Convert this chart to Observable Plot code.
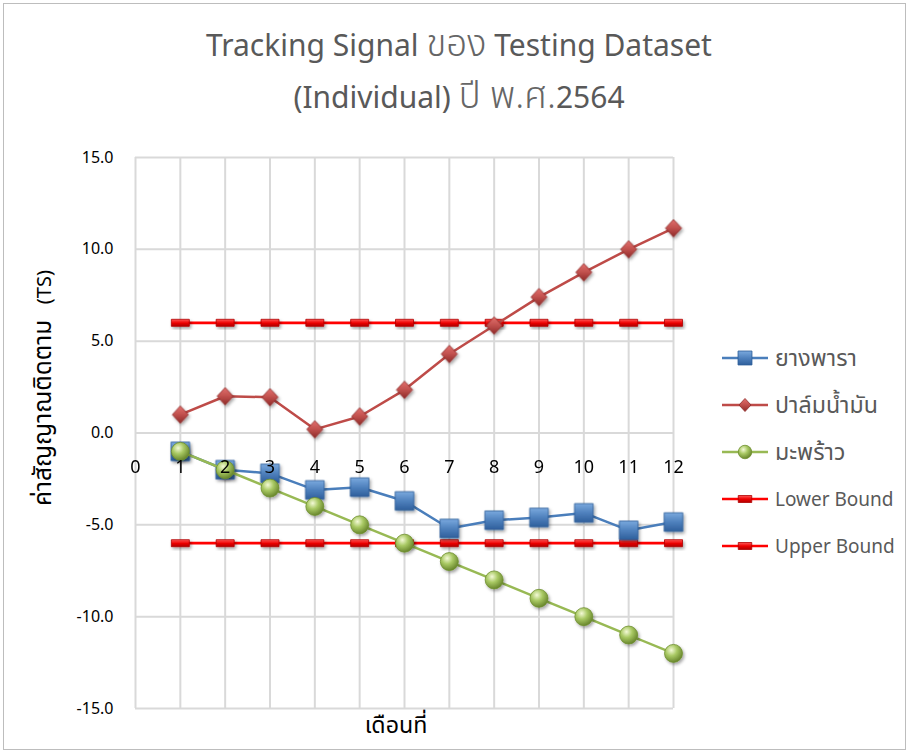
<!DOCTYPE html>
<html><head><meta charset="utf-8">
<script src="https://cdn.jsdelivr.net/npm/d3@7"></script>
<script src="https://cdn.jsdelivr.net/npm/@observablehq/plot@0.6"></script>
<style>
body{margin:0;width:909px;height:753px;position:relative;background:#fff;font-family:"Noto Sans","Noto Sans Thai",Tahoma,sans-serif;overflow:hidden}
#frame{position:absolute;left:3px;top:3px;width:903px;height:747px;border:1px solid #bdbdbd;box-sizing:border-box}
#title{position:absolute;left:0;width:918px;top:19px;text-align:center;color:#595959;font-size:30px;line-height:52px}
#title .th{font-weight:300;color:#666}
#chart{position:absolute;left:0;top:130px}
#ylabel{position:absolute;left:44px;top:388px;transform:translate(-50%,-50%) rotate(-90deg);white-space:nowrap;font-size:20px;color:#000;line-height:30px}
#xlabel{position:absolute;left:396px;top:726px;transform:translate(-50%,-50%);font-size:19px;color:#000;white-space:nowrap;line-height:30px}
#legend{position:absolute;left:720px;top:334px}
.item{display:flex;align-items:center;height:47px;font-size:19px;color:#595959;white-space:nowrap;line-height:24px}
.item svg{margin-right:5px}
.th{font-size:1.22em;line-height:1}
</style></head>
<body>
<svg width="0" height="0" style="position:absolute">
<defs>
<linearGradient id="gBlue" x1="0" y1="0" x2="0" y2="1"><stop offset="0" stop-color="#7aa9de"/><stop offset="0.5" stop-color="#4f81bd"/><stop offset="1" stop-color="#2f5f9c"/></linearGradient>
<linearGradient id="gRed" x1="0" y1="0" x2="0" y2="1"><stop offset="0" stop-color="#e2706d"/><stop offset="0.5" stop-color="#c0504d"/><stop offset="1" stop-color="#8e2a28"/></linearGradient>
<radialGradient id="gGreen" cx="0.38" cy="0.32" r="0.7"><stop offset="0" stop-color="#f3f9d6"/><stop offset="0.45" stop-color="#a9c964"/><stop offset="1" stop-color="#66842a"/></radialGradient>
<linearGradient id="gBound" x1="0" y1="0" x2="0" y2="1"><stop offset="0" stop-color="#ff5a5a"/><stop offset="0.5" stop-color="#ee0000"/><stop offset="1" stop-color="#b00000"/></linearGradient>
<filter id="shadow" x="-50%" y="-50%" width="200%" height="200%"><feDropShadow dx="1.5" dy="2" stdDeviation="1.5" flood-color="#000" flood-opacity="0.35"/></filter>
</defs>
</svg>
<div id="frame"></div>
<div id="title">Tracking Signal <span class="th">ของ</span> Testing Dataset<br>(Individual) <span class="th">ปี พ.ศ.</span>2564</div>
<div id="chart"></div>
<div id="ylabel"><span class="th">ค่าสัญญาณติดตาม</span>&nbsp;&nbsp;&nbsp;(TS)</div>
<div id="xlabel"><span class="th">เดือนที่</span></div>
<div id="legend"></div>
<script>
// ---- data ----
const months = [1,2,3,4,5,6,7,8,9,10,11,12];
const rubber = [-1.0,-2.0,-2.2,-3.1,-2.95,-3.7,-5.2,-4.75,-4.6,-4.35,-5.3,-4.85];
const palm = [1.0,2.0,1.95,0.2,0.9,2.35,4.3,5.85,7.4,8.75,10.0,11.15];
const coconut = [-1,-2,-3,-4,-5,-6,-7,-8,-9,-10,-11,-12];
const lowerBound = [6,6,6,6,6,6,6,6,6,6,6,6];
const upperBound = [-6,-6,-6,-6,-6,-6,-6,-6,-6,-6,-6,-6];
const seriesNames = ["ยางพารา","ปาล์มน้ำมัน","มะพร้าว","Lower Bound","Upper Bound"];
const thaiName = [true, true, true, false, false];
const xTicks = [0,1,2,3,4,5,6,7,8,9,10,11,12];
const yTicks = [-15,-10,-5,0,5,10,15];

// ---- symbols ----
const symSquare = {draw(c, size){const r=Math.sqrt(size/Math.PI); c.moveTo(-r,-r); c.lineTo(r,-r); c.lineTo(r,r); c.lineTo(-r,r); c.closePath();}};
const symDiamond = {draw(c, size){const r=Math.sqrt(size/Math.PI); c.moveTo(0,-r); c.lineTo(r*0.92,0); c.lineTo(0,r); c.lineTo(-r*0.92,0); c.closePath();}};
const symBar = {draw(c, size){const r=Math.sqrt(size/Math.PI); c.moveTo(-r,-3.5); c.lineTo(r,-3.5); c.lineTo(r,3.5); c.lineTo(-r,3.5); c.closePath();}};

const series = [
  {name: seriesNames[0], values: rubber, stroke: "#4a7ebb", fill: "url(#gBlue)", mstroke: "#2c5d98", symbol: symSquare, r: 9.3, sw: 2.5},
  {name: seriesNames[1], values: palm, stroke: "#be4b48", fill: "url(#gRed)", mstroke: "#8e2a28", symbol: symDiamond, r: 8.7, sw: 2.5},
  {name: seriesNames[2], values: coconut, stroke: "#98b954", fill: "url(#gGreen)", mstroke: "#6f8f2e", symbol: "circle", r: 9, sw: 2.5},
  {name: seriesNames[3], values: lowerBound, stroke: "#ff0000", fill: "url(#gBound)", mstroke: "#b00000", symbol: symBar, r: 9, sw: 2.8},
  {name: seriesNames[4], values: upperBound, stroke: "#ff0000", fill: "url(#gBound)", mstroke: "#b00000", symbol: symBar, r: 9, sw: 2.8}
];
const drawOrder = [3,4,0,1,2];

const marks = [
  Plot.gridX(xTicks, {stroke: "#d9d9d9", strokeOpacity: 1, strokeWidth: 2}),
  Plot.gridY(yTicks, {stroke: "#d9d9d9", strokeOpacity: 1, strokeWidth: 2}),
  Plot.axisY(yTicks, {tickSize: 0, tickPadding: 22, tickFormat: d => d.toFixed(1), fontSize: 16, fill: "#000", label: null})
];
for (const i of drawOrder) {
  const s = series[i];
  const rows = months.map((m, k) => ({x: m, y: s.values[k]}));
  marks.push(Plot.line(rows, {x: "x", y: "y", stroke: s.stroke, strokeWidth: s.sw}));
  marks.push(Plot.dot(rows, {x: "x", y: "y", symbol: s.symbol, r: s.r, fill: s.fill, stroke: s.mstroke, strokeWidth: 0.8, imageFilter: "url(#shadow)"}));
}
marks.push(Plot.text(xTicks, {x: d => d, y: () => 0, dy: 34, text: d => String(d), fontSize: 18, fill: "#000"}));

const chart = Plot.plot({
  width: 710, height: 623,
  marginLeft: 135, marginRight: 37, marginTop: 27, marginBottom: 45,
  x: {domain: [0, 12], axis: null},
  y: {domain: [-15, 15], axis: null},
  style: {fontFamily: "'Noto Sans','Noto Sans Thai',Tahoma,sans-serif", overflow: "visible", background: "transparent"},
  marks
});
document.getElementById("chart").appendChild(chart);

// ---- legend ----
const leg = document.getElementById("legend");
series.forEach((s, i) => {
  const div = document.createElement("div");
  div.className = "item";
  const sv = d3.create("svg").attr("width", 50).attr("height", 20);
  sv.append("line").attr("x1", 2).attr("x2", 48).attr("y1", 10).attr("y2", 10).attr("stroke", s.stroke).attr("stroke-width", 2.5);
  const sym = typeof s.symbol === "string" ? d3.symbolCircle : s.symbol;
  const scale = 0.75;
  sv.append("path").attr("transform", `translate(25,10)`)
    .attr("d", d3.symbol(sym, Math.PI * (s.r*scale) * (s.r*scale))())
    .attr("fill", s.fill).attr("stroke", s.mstroke).attr("stroke-width", 0.8);
  div.appendChild(sv.node());
  const t = document.createElement("span");
  if (thaiName[i]) t.className = "th";
  t.textContent = s.name;
  div.appendChild(t);
  leg.appendChild(div);
});
</script>
</body></html>
